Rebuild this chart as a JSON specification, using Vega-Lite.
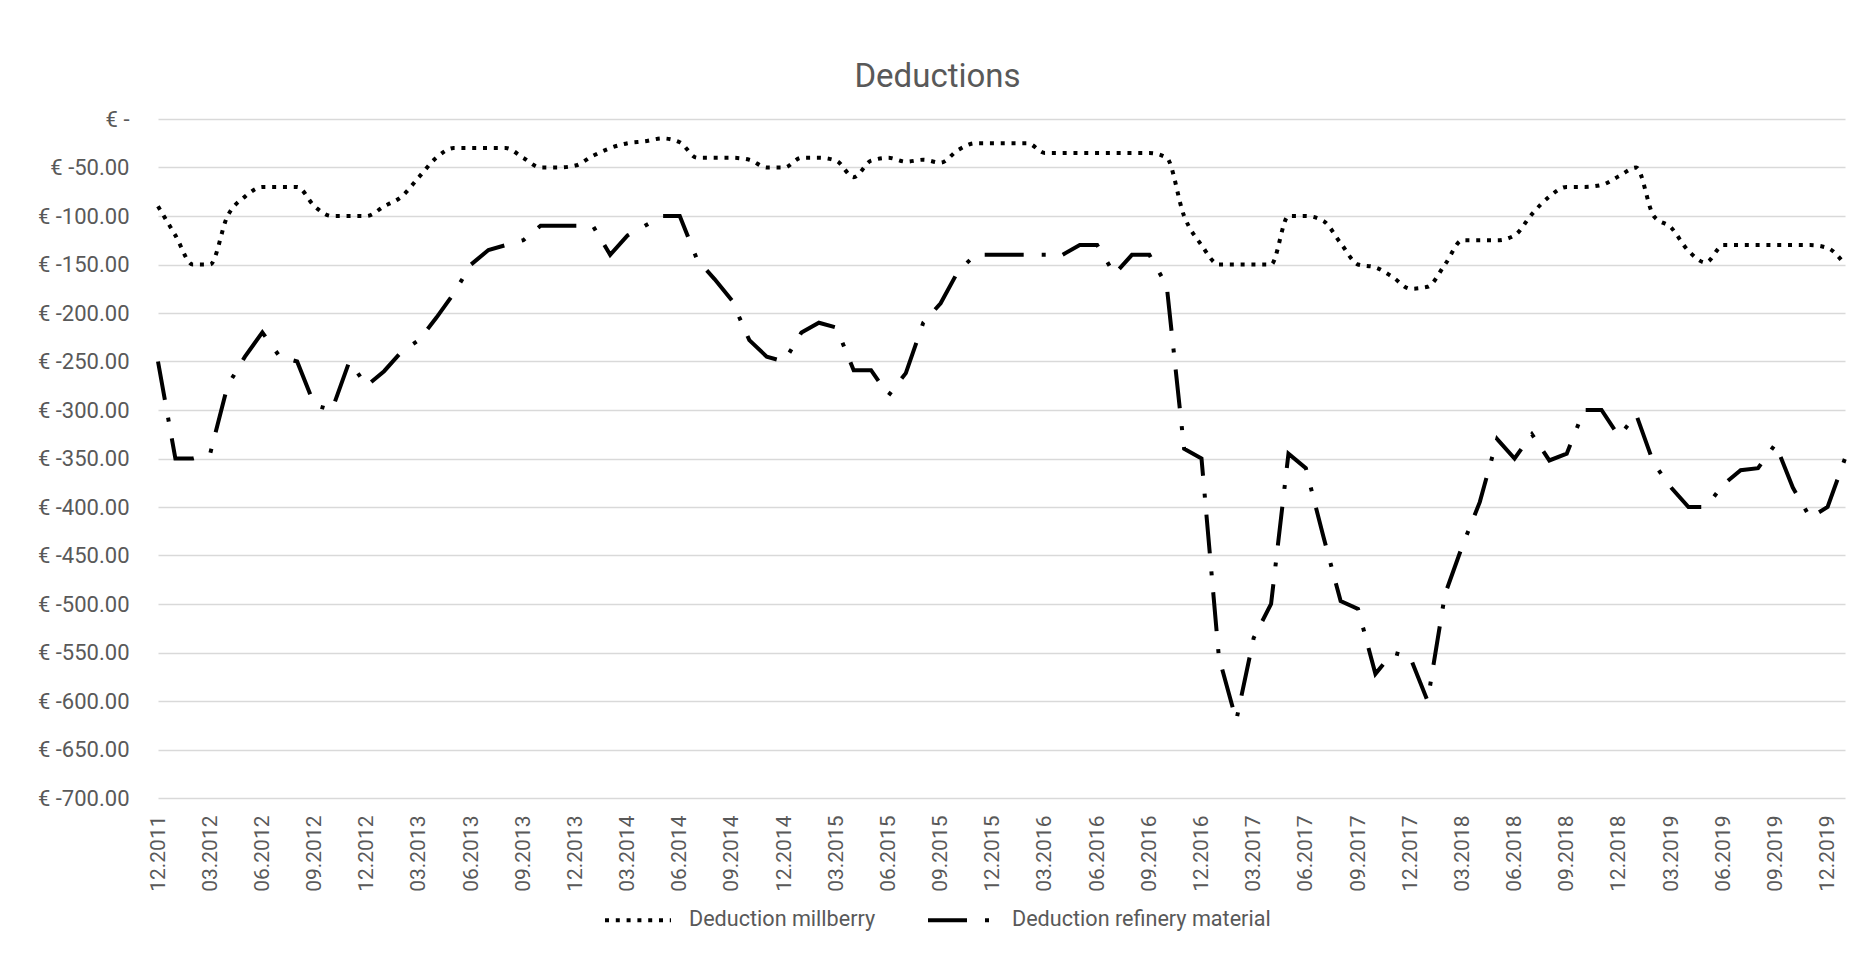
{
  "$schema": "https://vega.github.io/schema/vega-lite/v6.json",
  "width": 1687,
  "height": 679,
  "autosize": {"type": "none"},
  "padding": {"left": 158, "top": 119, "right": 16, "bottom": 158},
  "background": "white",
  "title": {"text": "Deductions", "font": "Roboto", "fontSize": 33, "fontWeight": "normal", "color": "#595959", "anchor": "middle", "dx": -64, "dy": 33, "offset": 21, "baseline": "alphabetic"},
  "data": {"values": [
    {"month":"12.2011","m":-90,"r":-250},
    {"month":"01.2012","m":-120,"r":-350},
    {"month":"02.2012","m":-150,"r":-350},
    {"month":"03.2012","m":-150,"r":-345},
    {"month":"04.2012","m":-100,"r":-275},
    {"month":"05.2012","m":-80,"r":-245},
    {"month":"06.2012","m":-70,"r":-220},
    {"month":"07.2012","m":-70,"r":-245},
    {"month":"08.2012","m":-70,"r":-250},
    {"month":"09.2012","m":-90,"r":-295},
    {"month":"10.2012","m":-100,"r":-300},
    {"month":"11.2012","m":-100,"r":-250},
    {"month":"12.2012","m":-100,"r":-275},
    {"month":"01.2013","m":-90,"r":-260},
    {"month":"02.2013","m":-80,"r":-240},
    {"month":"03.2013","m":-60,"r":-228},
    {"month":"04.2013","m":-40,"r":-205},
    {"month":"05.2013","m":-30,"r":-180},
    {"month":"06.2013","m":-30,"r":-150},
    {"month":"07.2013","m":-30,"r":-135},
    {"month":"08.2013","m":-30,"r":-130},
    {"month":"09.2013","m":-40,"r":-125},
    {"month":"10.2013","m":-50,"r":-110},
    {"month":"11.2013","m":-50,"r":-110},
    {"month":"12.2013","m":-48,"r":-110},
    {"month":"01.2014","m":-38,"r":-110},
    {"month":"02.2014","m":-30,"r":-140},
    {"month":"03.2014","m":-25,"r":-120},
    {"month":"04.2014","m":-23,"r":-110},
    {"month":"05.2014","m":-20,"r":-100},
    {"month":"06.2014","m":-24,"r":-100},
    {"month":"07.2014","m":-40,"r":-145},
    {"month":"08.2014","m":-40,"r":-165},
    {"month":"09.2014","m":-40,"r":-187},
    {"month":"10.2014","m":-42,"r":-228},
    {"month":"11.2014","m":-50,"r":-245},
    {"month":"12.2014","m":-50,"r":-250},
    {"month":"01.2015","m":-40,"r":-220},
    {"month":"02.2015","m":-40,"r":-210},
    {"month":"03.2015","m":-43,"r":-215},
    {"month":"04.2015","m":-60,"r":-259},
    {"month":"05.2015","m":-43,"r":-259},
    {"month":"06.2015","m":-40,"r":-285},
    {"month":"07.2015","m":-44,"r":-262},
    {"month":"08.2015","m":-42,"r":-210},
    {"month":"09.2015","m":-45,"r":-190},
    {"month":"10.2015","m":-32,"r":-157},
    {"month":"11.2015","m":-25,"r":-140},
    {"month":"12.2015","m":-25,"r":-140},
    {"month":"01.2016","m":-25,"r":-140},
    {"month":"02.2016","m":-25,"r":-140},
    {"month":"03.2016","m":-35,"r":-140},
    {"month":"04.2016","m":-35,"r":-140},
    {"month":"05.2016","m":-35,"r":-130},
    {"month":"06.2016","m":-35,"r":-130},
    {"month":"07.2016","m":-35,"r":-160},
    {"month":"08.2016","m":-35,"r":-140},
    {"month":"09.2016","m":-35,"r":-140},
    {"month":"10.2016","m":-40,"r":-172},
    {"month":"11.2016","m":-100,"r":-340},
    {"month":"12.2016","m":-130,"r":-350},
    {"month":"01.2017","m":-150,"r":-555},
    {"month":"02.2017","m":-150,"r":-620},
    {"month":"03.2017","m":-150,"r":-535},
    {"month":"04.2017","m":-150,"r":-500},
    {"month":"05.2017","m":-100,"r":-345},
    {"month":"06.2017","m":-100,"r":-360},
    {"month":"07.2017","m":-105,"r":-430},
    {"month":"08.2017","m":-128,"r":-497},
    {"month":"09.2017","m":-150,"r":-505},
    {"month":"10.2017","m":-153,"r":-572},
    {"month":"11.2017","m":-163,"r":-550},
    {"month":"12.2017","m":-175,"r":-555},
    {"month":"01.2018","m":-173,"r":-600},
    {"month":"02.2018","m":-150,"r":-490},
    {"month":"03.2018","m":-125,"r":-440},
    {"month":"04.2018","m":-125,"r":-395},
    {"month":"05.2018","m":-125,"r":-330},
    {"month":"06.2018","m":-120,"r":-350},
    {"month":"07.2018","m":-98,"r":-325},
    {"month":"08.2018","m":-80,"r":-352},
    {"month":"09.2018","m":-70,"r":-345},
    {"month":"10.2018","m":-70,"r":-300},
    {"month":"11.2018","m":-68,"r":-300},
    {"month":"12.2018","m":-59,"r":-327},
    {"month":"01.2019","m":-50,"r":-305},
    {"month":"02.2019","m":-100,"r":-355},
    {"month":"03.2019","m":-112,"r":-380},
    {"month":"04.2019","m":-136,"r":-400},
    {"month":"05.2019","m":-148,"r":-400},
    {"month":"06.2019","m":-130,"r":-377},
    {"month":"07.2019","m":-130,"r":-362},
    {"month":"08.2019","m":-130,"r":-360},
    {"month":"09.2019","m":-130,"r":-335},
    {"month":"10.2019","m":-130,"r":-380},
    {"month":"11.2019","m":-130,"r":-411},
    {"month":"12.2019","m":-133,"r":-400},
    {"month":"01.2020","m":-150,"r":-350}
  ]},
  "transform": [
    {"fold": ["m", "r"], "as": ["key", "value"]},
    {"lookup": "key", "from": {"data": {"values": [{"key": "m", "series": "Deduction millberry"}, {"key": "r", "series": "Deduction refinery material"}]}, "key": "key", "fields": ["series"]}}
  ],
  "encoding": {
    "x": {
      "field": "month", "type": "ordinal", "sort": null,
      "scale": {"type": "point", "padding": 0},
      "axis": {
        "title": null, "labelAngle": -90, "labelFont": "Roboto", "labelFontSize": 21, "labelColor": "#595959",
        "ticks": false, "tickSize": 0, "domain": false, "grid": false, "labelPadding": 17, "labelOverlap": false,
        "labelExpr": "indexof(['03','06','09','12'], slice(datum.value, 0, 2)) >= 0 ? datum.value : ''"
      }
    },
    "y": {
      "field": "value", "type": "quantitative",
      "scale": {"domain": [-700, 0], "nice": false, "zero": false},
      "axis": {
        "title": null,
        "values": [0, -50, -100, -150, -200, -250, -300, -350, -400, -450, -500, -550, -600, -650, -700],
        "labelExpr": "datum.value == 0 ? '€ -\u2007' : '€ -' + format(-datum.value, '.2f')",
        "labelFont": "Roboto", "labelFontSize": 22, "labelColor": "#595959",
        "ticks": false, "tickSize": 0, "domain": false, "grid": true, "gridColor": "#d9d9d9", "gridWidth": 1.5,
        "labelPadding": 29
      }
    },
    "strokeDash": {
      "field": "series", "type": "nominal",
      "scale": {"domain": ["Deduction millberry", "Deduction refinery material"], "range": [[4, 6.8], [39, 18, 4, 17]]},
      "legend": {
        "title": null, "orient": "none", "legendX": 445, "legendY": 766, "direction": "horizontal",
        "labelFont": "Roboto", "labelFontSize": 21.6, "labelColor": "#595959",
        "symbolType": "stroke", "symbolSize": 4356, "symbolStrokeWidth": 4, "symbolStrokeColor": "black",
        "labelOffset": 16, "columnPadding": 44, "padding": 0, "labelLimit": 0
      }
    }
  },
  "layer": [
    {
      "transform": [{"filter": "datum.series === 'Deduction millberry'"}],
      "mark": {"type": "line", "interpolate": "monotone", "color": "black", "strokeWidth": 4, "strokeCap": "butt"}
    },
    {
      "transform": [{"filter": "datum.series === 'Deduction refinery material'"}],
      "mark": {"type": "line", "interpolate": "linear", "color": "black", "strokeWidth": 4, "strokeCap": "butt"}
    }
  ],
  "config": {"view": {"stroke": null}}
}
